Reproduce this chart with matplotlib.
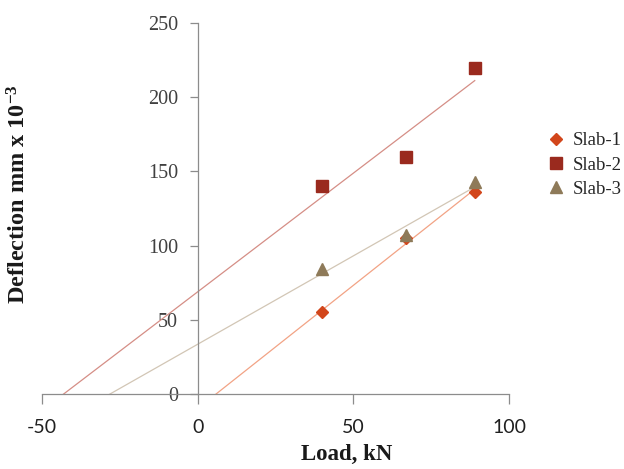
import numpy as np
import matplotlib
matplotlib.use("Agg")
import matplotlib.pyplot as plt

# Load (kN) and deflection (mm x 10^-3) readings for the three slabs
load = [40, 67, 89]
slab1 = [55, 105, 136]
slab2 = [140, 160, 220]
slab3 = [84, 107, 143]
labels = ["Slab-1", "Slab-2", "Slab-3"]
x_ticks = [-50, 0, 50, 100]
y_ticks = [0, 50, 100, 150, 200, 250]

plt.rcParams["axes.unicode_minus"] = False
plt.rcParams["mathtext.fontset"] = "custom"
plt.rcParams["mathtext.rm"] = "Liberation Serif:bold"
plt.rcParams["mathtext.bf"] = "Liberation Serif:bold"
plt.rcParams["mathtext.it"] = "Liberation Serif:bold"

fig = plt.figure(figsize=(6.24, 4.69), dpi=100)
ax = fig.add_axes([42 / 624, 75 / 469, 467 / 624, 371 / 469])

styles = [
    dict(marker="D", ms=6.3, color="#D2461B", line="#F2A385"),
    dict(marker="s", ms=8.4, color="#9A2A1E", line="#D58E86"),
    dict(marker="^", ms=9.0, color="#8E7A59", line="#D2C6B5"),
]

handles = []
for vals, lab, st in zip([slab1, slab2, slab3], labels, styles):
    slope, icpt = np.polyfit(load, vals, 1)
    xs = np.array([-50.0, max(load)])
    ax.plot(xs, slope * xs + icpt, color=st["line"], lw=0.9, zorder=2)
    h, = ax.plot(load, vals, linestyle="none", marker=st["marker"], ms=st["ms"],
                 color=st["color"], markeredgecolor=st["color"], zorder=3, label=lab)
    handles.append(h)

ax.set_xlim(-50, 100)
ax.set_ylim(0, 250)
ax.set_xticks(x_ticks)
ax.set_yticks(y_ticks)

axis_grey = "#8C8C8C"
for side in ("top", "right"):
    ax.spines[side].set_visible(False)
ax.spines["left"].set_position(("data", 0))
ax.spines["left"].set_color(axis_grey)
ax.spines["bottom"].set_color(axis_grey)
ax.spines["left"].set_linewidth(0.9)
ax.spines["bottom"].set_linewidth(0.9)

ax.tick_params(axis="y", direction="out", length=6, width=0.9, color=axis_grey,
               pad=8, labelcolor="#404040")
ax.tick_params(axis="x", direction="out", length=7, width=0.9, color=axis_grey,
               pad=11, labelcolor="#202020")
for t in ax.get_yticklabels():
    t.set_fontfamily("Liberation Serif")
    t.set_fontsize(14.5)
for t in ax.get_xticklabels():
    t.set_fontfamily("Lato")
    t.set_fontsize(14)

ax.set_xlabel("Load, kN", fontfamily="Liberation Serif", fontweight="bold",
              fontsize=16.5, color="#1A1A1A")
ax.xaxis.set_label_coords((347 - 42) / 467, -0.135)
ax.set_ylabel(r"Deflection mm x 10$^{\mathrm{-3}}$", fontfamily="Liberation Serif",
              fontweight="bold", fontsize=17.5, color="#1A1A1A")
ax.yaxis.set_label_coords(-0.024, 0.54)

fig.legend(handles=handles, loc="center left", bbox_to_anchor=(548 / 624, (469 - 165) / 469),
           frameon=False, prop={"family": "Liberation Serif", "size": 13.5},
           handlelength=0.9, handletextpad=0.4, labelspacing=0.38, borderpad=0,
           borderaxespad=0, labelcolor="#262626")

fig.savefig("out.png", dpi=100)
